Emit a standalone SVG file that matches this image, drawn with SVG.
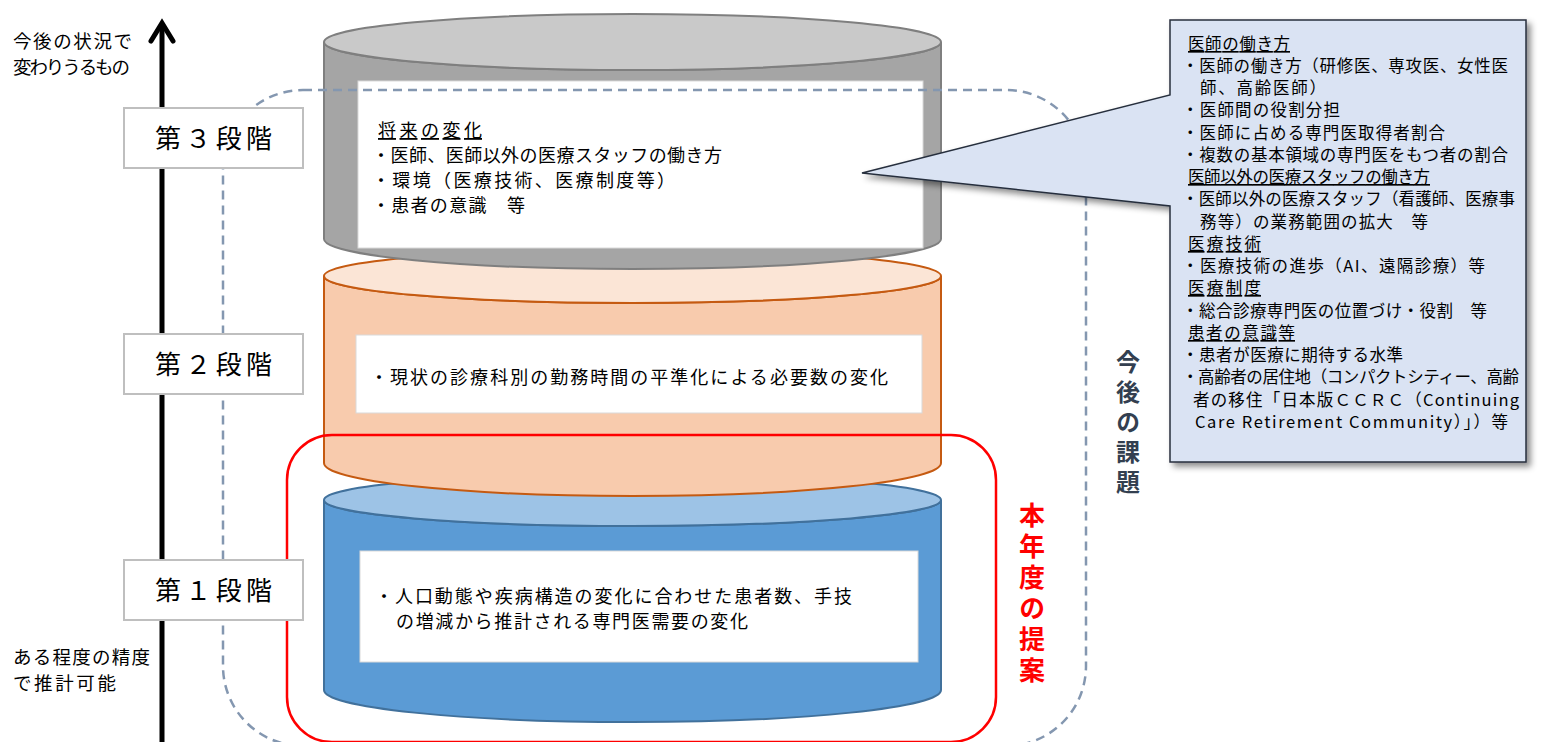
<svg xmlns="http://www.w3.org/2000/svg" width="1552" height="742" viewBox="0 0 1552 742">
<style>
text{font-family:"Noto Sans CJK JP","Noto Sans",sans-serif;fill:#000}
.side{font-size:18.5px}
.lbl{font-size:26px}
.body{font-size:18px}
.co{font-size:16.5px}
.u{text-decoration:underline}
.lblbox{fill:#fff;stroke:#bfbfbf;stroke-width:2}
.wbox{fill:#fff;stroke:#d9d9d9;stroke-width:1}
</style>
<defs>
<filter id="sh" x="-10%" y="-10%" width="130%" height="130%">
<feDropShadow dx="4" dy="4" stdDeviation="3" flood-color="#000" flood-opacity="0.45"/>
</filter>
</defs>

<g id="connectors">
<line x1="162" y1="742" x2="162" y2="24" stroke="#000" stroke-width="5"/>
<polyline points="151,41 162,23 173,41" fill="none" stroke="#000" stroke-width="5" stroke-linecap="round" stroke-linejoin="miter"/>
</g>

<g id="cyl1">
<path d="M324,500 L324,690 A308.5,32 0 0 0 941,690 L941,500 A308.5,26 0 0 1 324,500 Z" fill="#5b9bd5" stroke="#41719c" stroke-width="2"/>
<ellipse cx="632.5" cy="500" rx="308.5" ry="26" fill="#9dc3e6" stroke="#41719c" stroke-width="2"/>
<rect class="wbox" x="360" y="551" width="558" height="111"/>
<text class="body" x="375" y="603" textLength="477" lengthAdjust="spacing">・人口動態や疾病構造の変化に合わせた患者数、手技</text>
<text class="body" x="396" y="628" textLength="352" lengthAdjust="spacing">の増減から推計される専門医需要の変化</text>
</g>

<g id="cyl2">
<path d="M324,276 L324,463 A308.5,33 0 0 0 941,463 L941,276 A308.5,27 0 0 1 324,276 Z" fill="#f8cbad" stroke="#c55a11" stroke-width="2"/>
<ellipse cx="632.5" cy="276" rx="308.5" ry="27" fill="#fbe5d6" stroke="#c55a11" stroke-width="2"/>
<rect class="wbox" x="356" y="335" width="566" height="78"/>
<text class="body" x="370" y="384" textLength="518" lengthAdjust="spacing">・現状の診療科別の勤務時間の平準化による必要数の変化</text>
</g>

<g id="cyl3">
<path d="M324,42 L324,239 A308.5,30 0 0 0 941,239 L941,42 A308.5,28 0 0 1 324,42 Z" fill="#a5a5a5" stroke="#7f7f7f" stroke-width="2"/>
<ellipse cx="632.5" cy="42" rx="308.5" ry="28" fill="#c9c9c9" stroke="#7f7f7f" stroke-width="2"/>
<rect class="wbox" x="358" y="81" width="565" height="167"/>
<text class="body u" x="378" y="137" textLength="104" lengthAdjust="spacing">将来の変化</text>
<text class="body" x="372" y="162" textLength="350" lengthAdjust="spacing">・医師、医師以外の医療スタッフの働き方</text>
<text class="body" x="372" y="187" textLength="303" lengthAdjust="spacing">・環境（医療技術、医療制度等）</text>
<text class="body" x="372" y="212" textLength="153" lengthAdjust="spacing">・患者の意識　等</text>
</g>

<g id="future">
<rect x="223" y="90" width="863" height="656" rx="80" ry="80" fill="none" stroke="#8497b0" stroke-width="2.5" stroke-dasharray="9,6"/>
<text x="1128" y="350" font-size="24" font-weight="bold" letter-spacing="6" style="fill:#333f50;writing-mode:vertical-rl" writing-mode="tb">今後の課題</text>
</g>

<g id="thisyear">
<rect x="287" y="435" width="709" height="307" rx="45" ry="45" fill="none" stroke="#ff0000" stroke-width="2.5"/>
<text x="1032" y="502" font-size="26" font-weight="bold" letter-spacing="5" style="fill:#ff0000;writing-mode:vertical-rl" writing-mode="tb">本年度の提案</text>
</g>

<g id="axis-labels">
<text class="side" x="13" y="48" textLength="119" lengthAdjust="spacing">今後の状況で</text>
<text class="side" x="13" y="74" textLength="117" lengthAdjust="spacing">変わりうるもの</text>
<text class="side" x="13" y="664" textLength="137" lengthAdjust="spacing">ある程度の精度</text>
<text class="side" x="13" y="690" textLength="103" lengthAdjust="spacing">で推計可能</text>
</g>

<g id="stage3">
<rect class="lblbox" x="124" y="108" width="179" height="60"/>
<text class="lbl" x="155" y="148" textLength="117" lengthAdjust="spacing">第３段階</text>
</g>
<g id="stage2">
<rect class="lblbox" x="124" y="334" width="179" height="60"/>
<text class="lbl" x="155" y="374" textLength="117" lengthAdjust="spacing">第２段階</text>
</g>
<g id="stage1">
<rect class="lblbox" x="124" y="560" width="179" height="60"/>
<text class="lbl" x="155" y="600" textLength="117" lengthAdjust="spacing">第１段階</text>
</g>

<g id="callout">
<path d="M1170,20 L1526,20 L1526,462 L1170,462 L1170,206 L862,173 L1170,95 Z" fill="#dae3f3" stroke="#262f3d" stroke-width="1.5" filter="url(#sh)"/>
<text class="co u" x="1188" y="50" textLength="102" lengthAdjust="spacing">医師の働き方</text>
<text class="co" x="1182" y="72" textLength="326" lengthAdjust="spacing">・医師の働き方（研修医、専攻医、女性医</text>
<text class="co" x="1200" y="94" textLength="126" lengthAdjust="spacing">師、高齢医師）</text>
<text class="co" x="1182" y="116" textLength="158" lengthAdjust="spacing">・医師間の役割分担</text>
<text class="co" x="1182" y="139" textLength="263" lengthAdjust="spacing">・医師に占める専門医取得者割合</text>
<text class="co" x="1182" y="161" textLength="326" lengthAdjust="spacing">・複数の基本領域の専門医をもつ者の割合</text>
<text class="co u" x="1188" y="183" textLength="242" lengthAdjust="spacing">医師以外の医療スタッフの働き方</text>
<text class="co" x="1182" y="205" textLength="333" lengthAdjust="spacing">・医師以外の医療スタッフ（看護師、医療事</text>
<text class="co" x="1200" y="228" textLength="228" lengthAdjust="spacing">務等）の業務範囲の拡大　等</text>
<text class="co u" x="1188" y="250" textLength="73" lengthAdjust="spacing">医療技術</text>
<text class="co" x="1182" y="272" textLength="303" lengthAdjust="spacing">・医療技術の進歩（AI、遠隔診療）等</text>
<text class="co u" x="1188" y="294" textLength="73" lengthAdjust="spacing">医療制度</text>
<text class="co" x="1182" y="317" textLength="305" lengthAdjust="spacing">・総合診療専門医の位置づけ・役割　等</text>
<text class="co u" x="1188" y="339" textLength="107" lengthAdjust="spacing">患者の意識等</text>
<text class="co" x="1182" y="361" textLength="221" lengthAdjust="spacing">・患者が医療に期待する水準</text>
<text class="co" x="1182" y="383" textLength="337" lengthAdjust="spacing">・高齢者の居住地（コンパクトシティー、高齢</text>
<text class="co" x="1193" y="406" textLength="326" lengthAdjust="spacing">者の移住「日本版ＣＣＲＣ（Continuing</text>
<text class="co" x="1195" y="428" textLength="313" lengthAdjust="spacing">Care Retirement Community）」）等</text>
</g>
</svg>
